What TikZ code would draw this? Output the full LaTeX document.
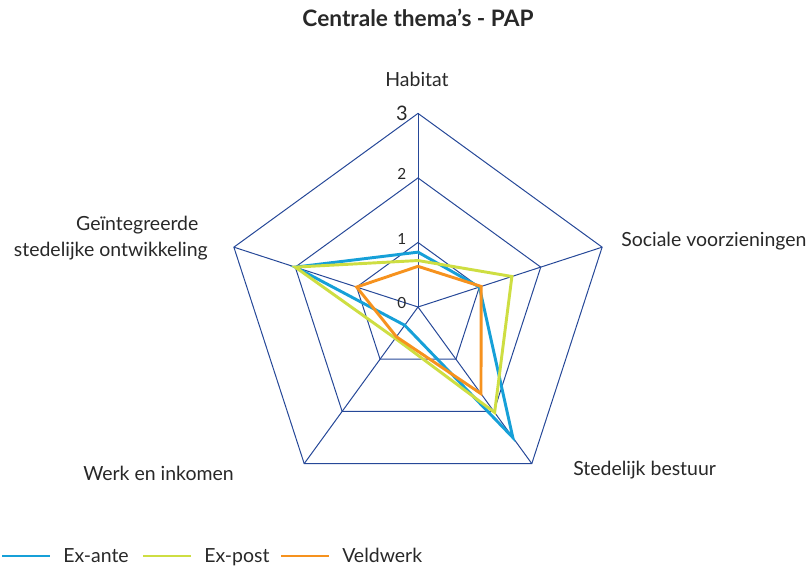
\documentclass[tikz,border=0pt]{standalone}
\usepackage{fontspec}
\setmainfont{Lato}
\usepackage{tikz}
\usetikzlibrary{arrows}

\definecolor{gridBlue}{RGB}{38,72,152}
\definecolor{anteBlue}{RGB}{22,160,216}
\definecolor{postYellow}{RGB}{206,222,66}
\definecolor{veldOrange}{RGB}{246,146,30}
\definecolor{labelGray}{RGB}{40,40,40}

\tikzset{
  grid/.style={draw=gridBlue,line width=0.75pt},
  exante/.style={draw=anteBlue,line width=2.2pt,line join=miter},
  expost/.style={draw=postYellow,line width=2.2pt,line join=miter},
  veldwerk/.style={draw=veldOrange,line width=2.2pt,line join=miter},
  axisLabel/.style={text=labelGray,font=\fontsize{14.6}{19.5}\selectfont,inner sep=0pt},
  tickLabel/.style={text=labelGray,font=\fontsize{11.5}{13}\selectfont,inner sep=0pt}
}

\begin{document}
\begin{tikzpicture}[x=0.75pt,y=-0.75pt]
  \useasboundingbox (0,0) rectangle (811,570);
  % title
  \node[axisLabel,font=\fontsize{17}{20}\selectfont\bfseries] (title) at (418,18) {Centrale thema’s - PAP};

  \begin{scope}[shift={(418,307)},x=48.4pt,y=48.4pt]
    % web
    \foreach \r in {1,2,3}
      \draw[grid] (90:\r) -- (18:\r) -- (-54:\r) -- (-126:\r) -- (162:\r) -- cycle;
    \foreach \a in {90,18,-54,-126,162}
      \draw[grid] (0,0) -- (\a:3);
    % Tick marks and annotations
    \foreach \y/\nodeLabel in {0/0,
      1/1,
      2/2}
    {
      \path (-0.25,\y+0.06) node[tickLabel] (tick\y) {\nodeLabel};
    }
    \path (-0.25,3) node[tickLabel,font=\fontsize{15}{17}\selectfont] (tick3) {3};
    % series
    \draw[exante] (90:0.85) -- (18:1) -- (-54:2.5) -- (-126:0.35) -- (162:2) -- cycle;
    \draw[expost] (90:0.72) -- (18:1.53) -- (-54:2.02) -- (-126:0.6) -- (162:2) -- cycle;
    \draw[veldwerk] (90:0.63) -- (18:1.03) -- (-54:1.66) -- (-126:0.57) -- (162:1) -- cycle;
  \end{scope}

  % axis labels
  \node[axisLabel] (habitat) at (417,79) {Habitat};
  \node[axisLabel,anchor=west] (sociaal) at (621,241) {Sociale voorzieningen};
  \node[axisLabel,anchor=west] (bestuur) at (573,470) {Stedelijk bestuur};
  \node[axisLabel,anchor=east] (werk) at (234,473) {Werk en inkomen};
  \node[axisLabel,align=right,anchor=east] (integraal) at (208,238) {Geïntegreerde\hspace*{7pt}\\stedelijke ontwikkeling};

  % legend
  \foreach \x/\key/\lineStyle/\nodeLabel in {2/ante/exante/Ex-ante,
    143/post/expost/Ex-post,
    281/veld/veldwerk/Veldwerk}
  {
    \coordinate (leg\key a) at (\x,556);
    \coordinate (leg\key b) at (\x+48,556);
    \draw[\lineStyle,line width=2pt] (leg\key a) -- (leg\key b);
    \node[axisLabel,anchor=base west] (legtext\key) at (\x+61,562) {\nodeLabel};
  }
\end{tikzpicture}
\end{document}
